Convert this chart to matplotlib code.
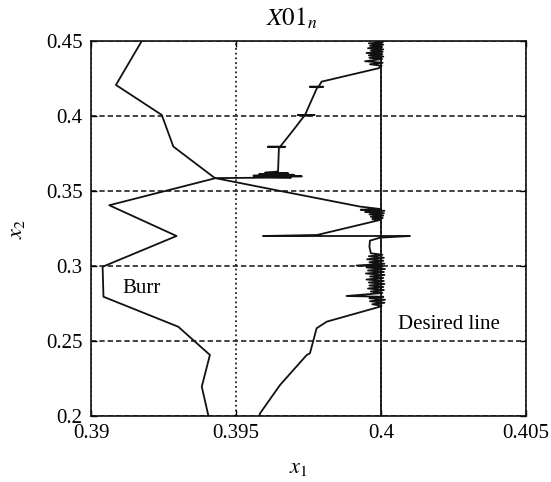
import numpy as np
import matplotlib
matplotlib.use("Agg")
import matplotlib.pyplot as plt

plt.rcParams['font.family'] = ['Liberation Serif', 'DejaVu Serif']
plt.rcParams['mathtext.fontset'] = 'stix'

# ---------------- data ----------------
x_ticks = [0.39, 0.395, 0.4, 0.405]
x_tick_labels = ['0.39', '0.395', '0.4', '0.405']
y_ticks = [0.2, 0.25, 0.3, 0.35, 0.4, 0.45]
y_tick_labels = ['0.2', '0.25', '0.3', '0.35', '0.4', '0.45']

desired_x = 0.4

# burr contour (x1, x2)
burr_x = [0.39175, 0.39086, 0.39244, 0.39284, 0.39428, 0.39063, 0.39295,
          0.39040, 0.39043, 0.39301, 0.39410, 0.39382, 0.39405]
burr_y = [0.4500, 0.4207, 0.4007, 0.3796, 0.3585, 0.3405, 0.3200,
          0.2995, 0.2795, 0.2595, 0.2407, 0.2195, 0.2000]

# measured tool path, top to bottom, in segments
seg_top_x = [0.39990, 0.40006, 0.39958, 0.40008, 0.39962, 0.40004, 0.39955,
             0.40008, 0.39965, 0.40006, 0.39950, 0.40005, 0.39958, 0.40008,
             0.39960, 0.40004, 0.39945, 0.40006, 0.39962, 0.40002, 0.39991]
seg_top_y = [0.4500, 0.4492, 0.4484, 0.4476, 0.4468, 0.4460, 0.4452,
             0.4444, 0.4436, 0.4428, 0.4420, 0.4412, 0.4404, 0.4396,
             0.4388, 0.4380, 0.4365, 0.4355, 0.4345, 0.4335, 0.4318]

seg_upper_x = [0.39795, 0.39785, 0.39755, 0.39801, 0.39780, 0.39738, 0.39714,
               0.39771, 0.39735, 0.39698, 0.39652, 0.39610, 0.39670, 0.39648,
               0.39645]
seg_upper_y = [0.4229, 0.4195, 0.4195, 0.4195, 0.4190, 0.4007, 0.4007,
               0.4007, 0.4000, 0.3907, 0.3795, 0.3795, 0.3795, 0.3790,
               0.3630]

seg_c36_x = [0.39600, 0.39680, 0.39580, 0.39700, 0.39560, 0.39727, 0.39570,
             0.39690, 0.39548, 0.39428]
seg_c36_y = [0.3622, 0.3618, 0.3612, 0.3608, 0.3602, 0.3598, 0.3594,
             0.3590, 0.3588, 0.3586]

seg_down_x = [0.39640, 0.39928, 0.39997, 0.39930, 0.40012, 0.39945, 0.40010,
              0.39960, 0.40008, 0.39965, 0.40006, 0.39970, 0.39997]
seg_down_y = [0.3505, 0.3396, 0.3380, 0.3375, 0.3368, 0.3360, 0.3352,
              0.3344, 0.3336, 0.3328, 0.3320, 0.3312, 0.3307]

seg_spike_x = [0.39780, 0.39593, 0.40100, 0.39997, 0.39962, 0.39960]
seg_spike_y = [0.3207, 0.3200, 0.3200, 0.3189, 0.3169, 0.3129]

seg_mid_x = [0.39965, 0.40005, 0.39958, 0.40010, 0.39952, 0.40008, 0.39960,
             0.40012, 0.39916, 0.40006, 0.39950, 0.40014, 0.39955, 0.40010,
             0.39948, 0.40012, 0.39962, 0.40008, 0.39950, 0.40010, 0.39958,
             0.40012, 0.39960, 0.40008, 0.39955, 0.40010, 0.39965, 0.40005,
             0.39881, 0.40008, 0.39960, 0.40014, 0.39962, 0.40012, 0.39970,
             0.40002, 0.39997]
seg_mid_y = [0.3085, 0.3075, 0.3065, 0.3055, 0.3045, 0.3035, 0.3025,
             0.3015, 0.3003, 0.2998, 0.2990, 0.2980, 0.2970, 0.2960,
             0.2950, 0.2940, 0.2930, 0.2920, 0.2910, 0.2900, 0.2890,
             0.2880, 0.2870, 0.2860, 0.2850, 0.2840, 0.2830, 0.2820,
             0.2800, 0.2795, 0.2785, 0.2775, 0.2765, 0.2755, 0.2745,
             0.2735, 0.2729]

seg_bottom_x = [0.39813, 0.39778, 0.39755, 0.39744, 0.39652, 0.39583, 0.39580]
seg_bottom_y = [0.2629, 0.2585, 0.2418, 0.2407, 0.2207, 0.2018, 0.2000]

path_x = np.concatenate([seg_top_x, seg_upper_x, seg_c36_x, seg_down_x,
                         seg_spike_x, seg_mid_x, seg_bottom_x])
path_y = np.concatenate([seg_top_y, seg_upper_y, seg_c36_y, seg_down_y,
                         seg_spike_y, seg_mid_y, seg_bottom_y])

# ---------------- figure ----------------
W, H = 551, 482
fig = plt.figure(figsize=(W / 100, H / 100), dpi=100)
ax = fig.add_axes([91 / W, 1 - 416 / H, (526 - 91) / W, (416 - 41) / H])

ax.set_xlim(0.39, 0.405)
ax.set_ylim(0.2, 0.45)
ax.set_xticks(x_ticks)
ax.set_xticklabels(x_tick_labels)
ax.set_yticks(y_ticks)
ax.set_yticklabels(y_tick_labels)
ax.tick_params(direction='in', length=4, width=1, labelsize=15,
               top=True, right=True, pad=6)

ax.xaxis.grid(True, color='#222222', linestyle=(0, (1, 1.6)), linewidth=1.3)
ax.yaxis.grid(True, color='#222222', linestyle=(0, (3.2, 1.8)), linewidth=1.2)
ax.set_axisbelow(True)

for s in ax.spines.values():
    s.set_linewidth(1.2)
    s.set_color('#111111')

ax.axvline(desired_x, color='#111111', linewidth=1.3)
ax.plot(burr_x, burr_y, color='#111111', linewidth=1.3)
ax.plot(path_x, path_y, color='#111111', linewidth=1.3)

ax.text(0.39176, 0.2853, 'Burr', fontsize=15, ha='center', va='center')
ax.text(0.40234, 0.2613, 'Desired line', fontsize=15, ha='center', va='center')

fig.text(292 / W, 1 - 26 / H, '$X01_n$', fontsize=18, ha='center', va='baseline')
fig.text(298 / W, 1 - 473 / H, '$x_1$', fontsize=16, ha='center', va='baseline')
fig.text(17.5 / W, 1 - 229 / H, '$x_2$', fontsize=16, ha='center', va='center',
         rotation=90)

fig.savefig('out.png', dpi=100)
